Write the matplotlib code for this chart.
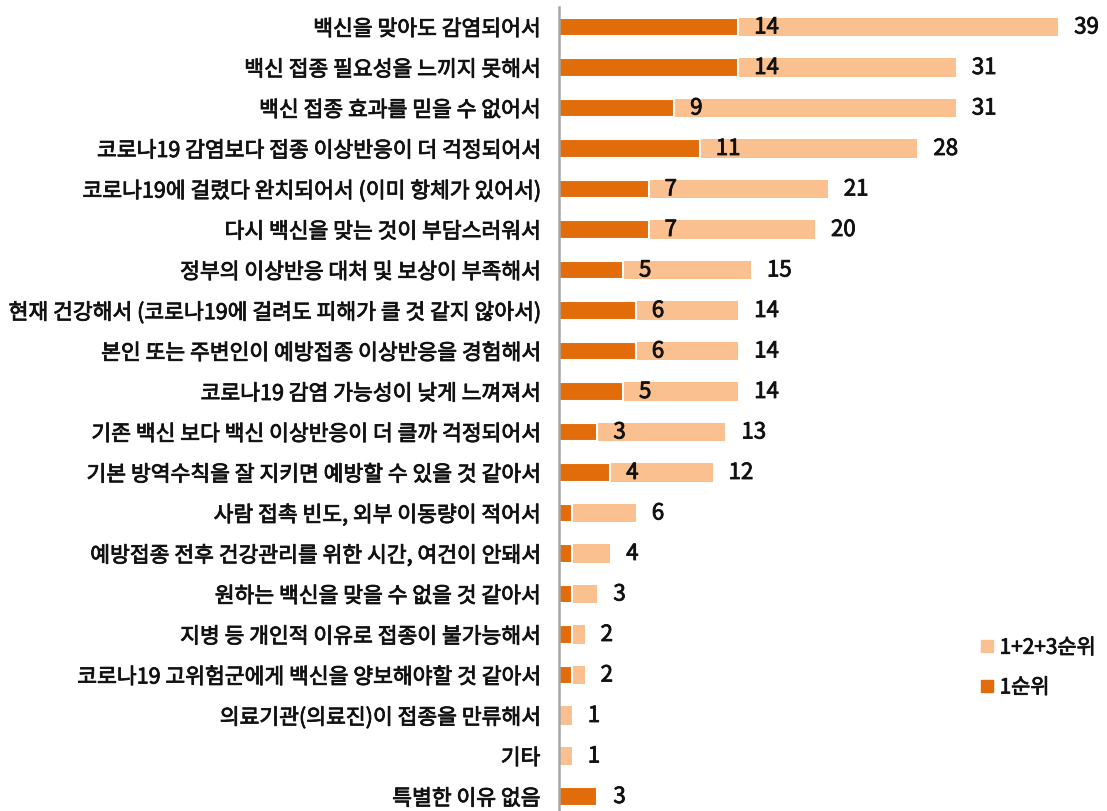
import matplotlib
matplotlib.use("Agg")
import matplotlib.pyplot as plt
from matplotlib.lines import Line2D
import matplotlib.patheffects as pe

plt.rcParams['font.family'] = ['Noto Sans CJK KR', 'DejaVu Sans']

categories = [
    "백신을 맞아도 감염되어서",
    "백신 접종 필요성을 느끼지 못해서",
    "백신 접종 효과를 믿을 수 없어서",
    "코로나19 감염보다 접종 이상반응이 더 걱정되어서",
    "코로나19에 걸렸다 완치되어서 (이미 항체가 있어서)",
    "다시 백신을 맞는 것이 부담스러워서",
    "정부의 이상반응 대처 및 보상이 부족해서",
    "현재 건강해서 (코로나19에 걸려도 피해가 클 것 같지 않아서)",
    "본인 또는 주변인이 예방접종 이상반응을 경험해서",
    "코로나19 감염 가능성이 낮게 느껴져서",
    "기존 백신 보다 백신 이상반응이 더 클까 걱정되어서",
    "기본 방역수칙을 잘 지키면 예방할 수 있을 것 같아서",
    "사람 접촉 빈도, 외부 이동량이 적어서",
    "예방접종 전후 건강관리를 위한 시간, 여건이 안돼서",
    "원하는 백신을 맞을 수 없을 것 같아서",
    "지병 등 개인적 이유로 접종이 불가능해서",
    "코로나19 고위험군에게 백신을 양보해야할 것 같아서",
    "의료기관(의료진)이 접종을 만류해서",
    "기타",
    "특별한 이유 없음",
]
total_123 = [39, 31, 31, 28, 21, 20, 15, 14, 14, 14, 13, 12, 6, 4, 3, 2, 2, 1, 1, 3]
first_rank = [14, 14, 9, 11, 7, 7, 5, 6, 6, 5, 3, 4, 1, 1, 1, 1, 1, 0, 0, 3]
legend_labels = ["1+2+3순위", "1순위"]

DARK = "#E36C0A"
LIGHT = "#FAC090"
TXT = "#111111"
thick = [pe.withStroke(linewidth=0.6, foreground=TXT)]

W, H = 1107, 811
fig = plt.figure(figsize=(W / 100, H / 100), dpi=100)
ax_left, ax_top, ax_bot, ax_right = 559, 7, 811, 1107
ax = fig.add_axes([ax_left / W, 1 - ax_bot / H, (ax_right - ax_left) / W, (ax_bot - ax_top) / H])

px_per_unit = 12.8
row_px = 40.5
first_row_px = 27
ax.set_xlim(0, (ax_right - ax_left) / px_per_unit)
ax.set_ylim((ax_bot - first_row_px) / row_px, -(first_row_px - ax_top) / row_px)

ys = list(range(len(categories)))
ax.barh(ys, total_123, height=0.45, color=LIGHT, edgecolor='none', zorder=2)
ax.barh(ys, first_rank, height=0.45, color=DARK, edgecolor='white', linewidth=1.5, zorder=3)

off = 16 / px_per_unit
VAL_FS = 16
for y, t, f in zip(ys, total_123, first_rank):
    ax.text(t + off, y, str(t), va='center', ha='left', fontsize=VAL_FS, color=TXT,
            path_effects=thick, zorder=5)
    if f >= 3 and f != t:
        ax.text(f + off, y, str(f), va='center', ha='left', fontsize=VAL_FS, color=TXT,
                path_effects=thick, zorder=5)

ax.set_yticks(ys)
ax.set_yticklabels(categories, fontsize=15.5, color=TXT)
for lbl in ax.get_yticklabels():
    lbl.set_path_effects(thick)
ax.tick_params(axis='y', length=0, pad=13.5)
ax.set_xticks([])
for s in ['top', 'right', 'bottom']:
    ax.spines[s].set_visible(False)
ax.spines['left'].set_color('#A6A6A6')
ax.spines['left'].set_linewidth(1.8)
ax.spines['left'].set_zorder(6)

handles = [Line2D([], [], marker='s', linestyle='none', color=LIGHT, markersize=8),
           Line2D([], [], marker='s', linestyle='none', color=DARK, markersize=8)]
leg = fig.legend(handles, legend_labels, loc='upper left', bbox_to_anchor=(960 / W, 1 - 618 / H),
                 frameon=False, handlelength=0.8, handletextpad=0.2, labelspacing=0.85,
                 labelcolor=TXT, prop={'size': 15})
for t in leg.get_texts():
    t.set_path_effects(thick)

fig.savefig("out.png", dpi=100)
